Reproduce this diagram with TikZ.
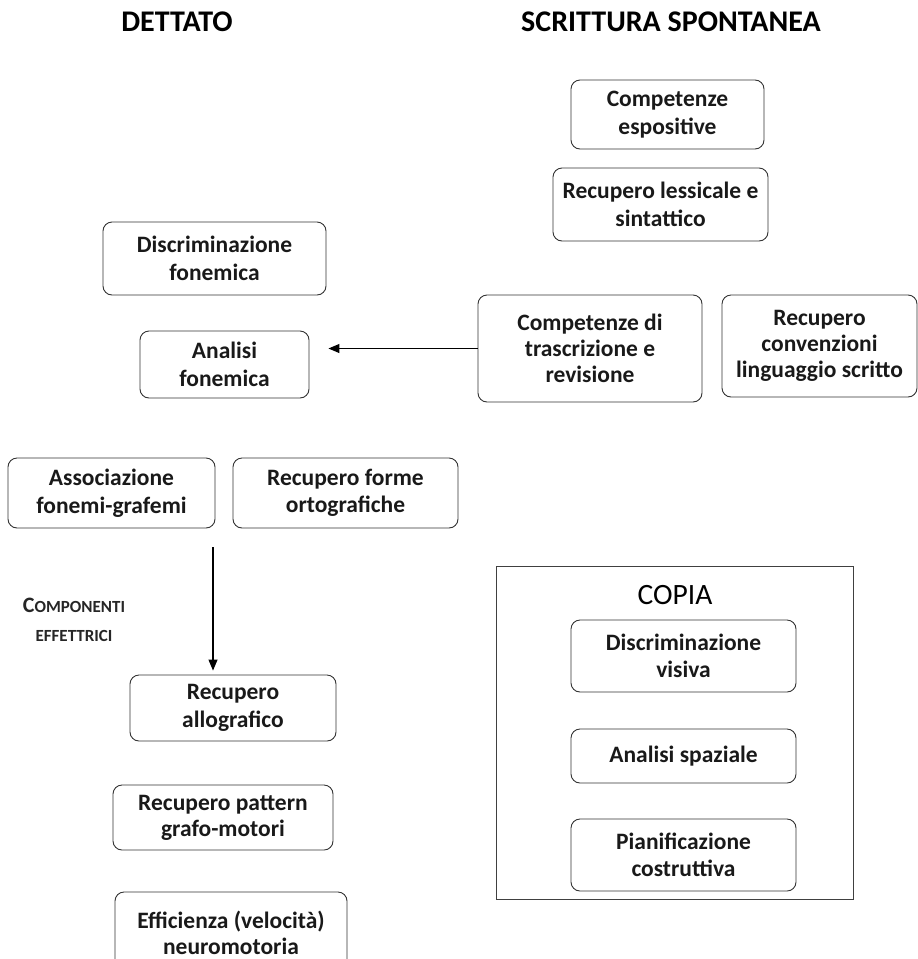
\documentclass[tikz,border=0pt]{standalone}
\usepackage{fontspec}
\setmainfont{Carlito}
\usetikzlibrary{arrows.meta}

\tikzset{
  box/.style={draw=black!80, line width=0.9pt, rounded corners=9pt, align=center,
    inner sep=2pt, font=\bfseries\fontsize{23.5}{27.5}\selectfont, text=black!90},
  tight/.style={font=\bfseries\fontsize{23.5}{26}\selectfont},
  heading/.style={font=\bfseries\fontsize{30}{34}\selectfont, inner sep=0pt},
  frame/.style={draw=black!75, line width=1pt},
  link/.style={draw=black, line width=1.1pt, -{Triangle[length=11pt,width=9pt]}},
}

\begin{document}
\begin{tikzpicture}[x=1pt,y=-1pt]
\useasboundingbox (0,0) rectangle (918,959);

% column headings
\node[heading] (hdet) at (177,22) {DETTATO};
\node[heading] (hspo) at (671,22) {SCRITTURA SPONTANEA};

% spontaneous writing
\node[box, minimum width=193pt, minimum height=69pt] (esp) at (667.5,114.5) {Competenze\\espositive};
\node[box, minimum width=215pt, minimum height=73pt] (less) at (660.5,204.5) {Recupero lessicale e\\sintattico};
\node[box, tight, minimum width=224pt, minimum height=107pt] (trasc) at (590,348.5) {Competenze di\\trascrizione e\\revisione};
\node[box, tight, minimum width=195pt, minimum height=102pt] (conv) at (819.5,346) {Recupero\\convenzioni\\linguaggio scritto};

% dictation
\node[box, minimum width=223pt, minimum height=73pt] (discf) at (214.5,258.5) {Discriminazione\\fonemica};
\node[box, minimum width=169pt, minimum height=67pt] (anf) at (224.5,364.5) {Analisi\\fonemica};
\node[box, minimum width=207pt, minimum height=70pt] (assoc) at (111.5,493) {Associazione\\fonemi-grafemi};
\node[box, minimum width=225pt, minimum height=70pt] (orto) at (345.5,493) {Recupero forme\\ortografiche};

% effector components
\node[font=\bfseries\fontsize{17}{29}\selectfont, align=center, inner sep=0pt, text=black!85] (eff) at (74,620)
  {{\fontsize{22}{29}\selectfont C}OMPONENTI\\EFFETTRICI};
\node[box, minimum width=206pt, minimum height=66pt] (allo) at (233,708) {Recupero\\allografico};
\node[box, tight, minimum width=220pt, minimum height=65pt] (patt) at (223,817.5) {Recupero pattern\\grafo-motori};
\node[box, tight, minimum width=232pt, minimum height=82pt] (neuro) at (231,933) {Efficienza (velocità)\\neuromotoria};

% copy
\node[frame, minimum width=357pt, minimum height=333pt] (copia) at (674.5,732.5) {};
\node[font=\fontsize{29.5}{32}\selectfont, inner sep=0pt] (tcopia) at (675,595) {COPIA};
\node[box, minimum width=225pt, minimum height=72pt] (dv) at (683.5,656) {Discriminazione\\visiva};
\node[box, minimum width=225pt, minimum height=54pt] (asp) at (683.5,756) {Analisi spaziale};
\node[box, minimum width=225pt, minimum height=72pt] (pc) at (683.5,855) {Pianificazione\\costruttiva};

% connectors
\draw[link, shorten >=19pt] (trasc.west) -- (anf.east |- trasc.west);
\coordinate (vstart) at (213,547);
\draw[link, shorten >=4pt] (vstart) -- (vstart |- allo.north);
\end{tikzpicture}
\end{document}
